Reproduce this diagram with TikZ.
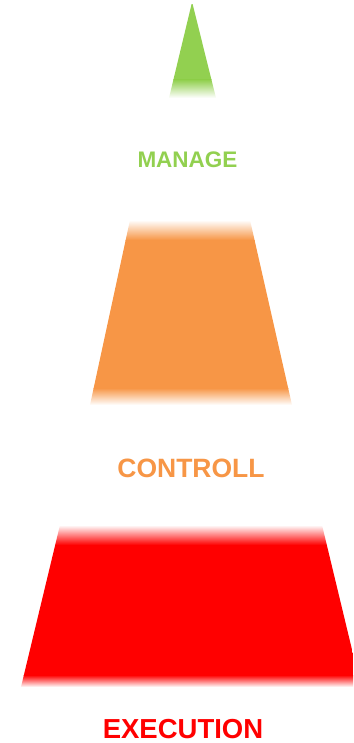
\documentclass[tikz,border=0pt]{standalone}
\usepackage{fontspec}
\setmainfont{Liberation Sans}
\usetikzlibrary{positioning}
\definecolor{mggreen}{RGB}{146,208,80}
\definecolor{ctorange}{RGB}{247,150,70}
\definecolor{exred}{RGB}{255,0,0}
% #1 colour, #2 top y, #3 bottom y, #4/#5 top left/right x,
% #6/#7 bottom left/right x, #8 fade in, #9 fade out
\newcommand{\pyrband}[9]{%
  \begin{scope}
    \clip (#4,#2) -- (#5,#2) -- (#7,#3) -- (#6,#3) -- cycle;
    \shade[top color=white,bottom color=#1] (0,#2) rectangle (353,#2+#8);
    \fill[#1] (0,#2+#8-.5) rectangle (353,#3-#9+.5);
    \shade[top color=#1,bottom color=white] (0,#3-#9) rectangle (353,#3);
  \end{scope}
}

\begin{document}
\begin{tikzpicture}[x=1pt,y=-1pt,
    lbl/.style={text=#1,inner sep=0pt}]
  \useasboundingbox (0,0) rectangle (353,743);
  \clip (0,0) rectangle (353,743);
  % pyramid bands
  \pyrband{mggreen}{4}{98}{191.6}{192.6}{169}{216}{1}{18}
  \pyrband{ctorange}{220}{405}{130}{250}{90}{292}{20}{17}
  \pyrband{exred}{525}{687}{60}{322}{21}{361}{20}{12}
  % labels
  \node[lbl=mggreen,font=\bfseries\fontsize{22.5}{27}\selectfont]
    (manage) at (187.5,160) {MANAGE};
  \node[lbl=ctorange,font=\bfseries\fontsize{26.5}{32}\selectfont]
    (controll) at (191,468) {CONTROLL};
  \node[lbl=exred,font=\bfseries\fontsize{27.5}{33}\selectfont]
    (execution) at (183,729) {EXECUTION};
\end{tikzpicture}
\end{document}
